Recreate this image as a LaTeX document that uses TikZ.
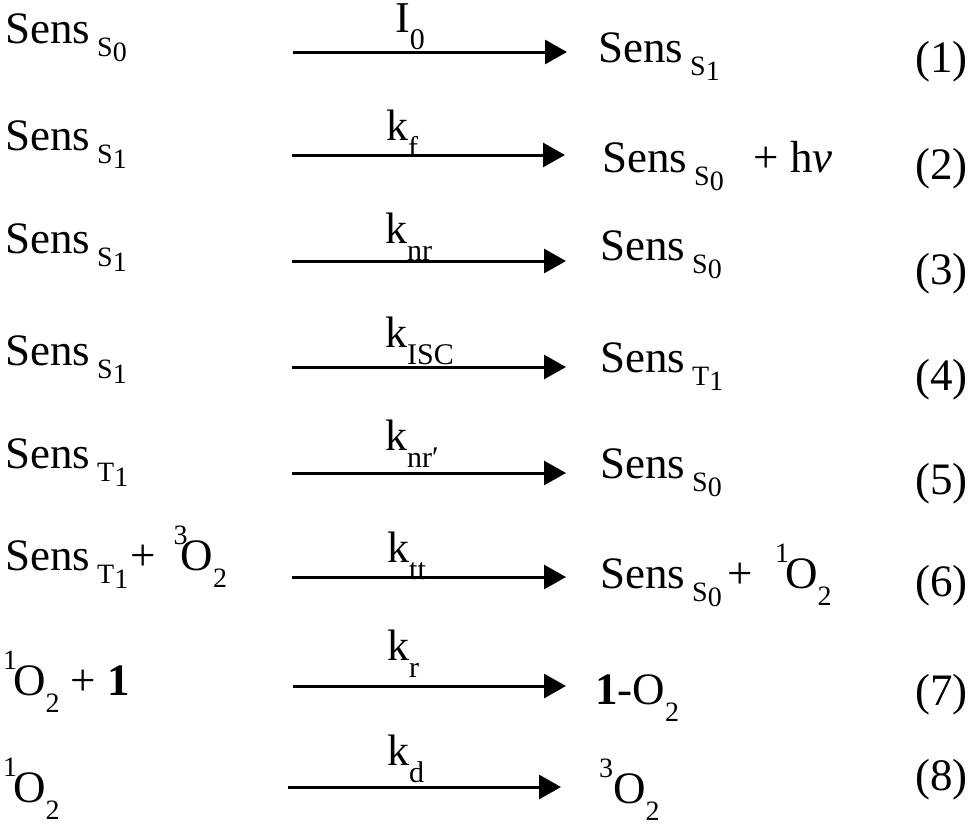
\documentclass[tikz,border=0pt]{standalone}
\usepackage{fontspec}
\setmainfont{Liberation Serif}
\usetikzlibrary{arrows.meta}

\newcommand{\subsize}{\fontsize{28}{28}\selectfont}
\newcommand{\sens}[2]{Sens\hspace{7pt}\raisebox{-13pt}{\subsize #1\raisebox{-5pt}{#2}}}
\newcommand{\oxy}[2][0pt]{\raisebox{26pt}{\subsize #2}\hspace{#1}O\raisebox{-17pt}{\subsize 2}}
\newcommand{\lsub}[1]{\raisebox{-17pt}{\fontsize{30}{30}\selectfont #1}}

\begin{document}
\begin{tikzpicture}[x=1pt, y=-1pt,
    species/.style={anchor=base west, inner sep=0pt, font=\fontsize{45}{50}\selectfont},
    rate/.style={anchor=base west, inner sep=0pt, font=\fontsize{44}{48}\selectfont},
    eqno/.style={anchor=base west, inner sep=0pt, font=\fontsize{45}{50}\selectfont},
    rxn/.style={line width=3pt, -{Triangle[length=22pt,width=24pt]}}
  ]
  \useasboundingbox (0,0) rectangle (973,828);

  % reactants
  \node[species] (lhs1) at (5,43) {\sens{S}{0}};
  \node[species] (lhs2) at (5,150) {\sens{S}{1}};
  \node[species] (lhs3) at (5,253) {\sens{S}{1}};
  \node[species] (lhs4) at (5,365) {\sens{S}{1}};
  \node[species] (lhs5) at (5,468) {\sens{T}{1}};
  \node[species] (lhs6) at (5,570) {\sens{T}{1}\hspace{2pt}+\hspace{18pt}\oxy[-7pt]{3}};
  \node[species] (lhs7) at (3,695) {\oxy[-4pt]{1} + \textbf{1}};
  \node[species] (lhs8) at (3,802) {\oxy[-4pt]{1}};

  % products
  \node[species] (rhs1) at (598,62) {\sens{S}{1}};
  \node[species] (rhs2) at (602,172) {\sens{S}{0}\hspace{30pt}+ h\textit{ν}};
  \node[species] (rhs3) at (600,260) {\sens{S}{0}};
  \node[species] (rhs4) at (600,372) {\sens{T}{1}};
  \node[species] (rhs5) at (600,478) {\sens{S}{0}};
  \node[species] (rhs6) at (600,588) {\sens{S}{0}\hspace{6pt}+\hspace{22pt}\oxy[-4pt]{1}};
  \node[species] (rhs7) at (595,704) {\textbf{1}-O\raisebox{-17pt}{\subsize 2}};
  \node[species] (rhs8) at (599,803) {\oxy{3}};

  % arrows
  \coordinate (from1) at (293,52);  \coordinate (to1) at (567,52);
  \coordinate (from2) at (292,155); \coordinate (to2) at (565,155);
  \coordinate (from3) at (292,261); \coordinate (to3) at (566,261);
  \coordinate (from4) at (292,367); \coordinate (to4) at (566,367);
  \coordinate (from5) at (292,473); \coordinate (to5) at (566,473);
  \coordinate (from6) at (292,577); \coordinate (to6) at (566,577);
  \coordinate (from7) at (293,686); \coordinate (to7) at (566,686);
  \coordinate (from8) at (288,787); \coordinate (to8) at (561,787);
  \draw[rxn] (from1) -- (to1);
  \draw[rxn] (from2) -- (to2);
  \draw[rxn] (from3) -- (to3);
  \draw[rxn] (from4) -- (to4);
  \draw[rxn] (from5) -- (to5);
  \draw[rxn] (from6) -- (to6);
  \draw[rxn] (from7) -- (to7);
  \draw[rxn] (from8) -- (to8);

  % rate constants
  \node[rate] (rate1) at (395,32) {I\lsub{0}};
  \node[rate] (rate2) at (386,140) {k\lsub{f}};
  \node[rate] (rate3) at (385,243) {k\lsub{nr}};
  \node[rate] (rate4) at (385,347) {k\lsub{ISC}};
  \node[rate] (rate5) at (385,450) {k\lsub{nr′}};
  \node[rate] (rate6) at (387,562) {k\lsub{tt}};
  \node[rate] (rate7) at (387,660) {k\lsub{r}};
  \node[rate] (rate8) at (387,765) {k\lsub{d}};

  % equation numbers
  \node[eqno] (num1) at (915,72) {(1)};
  \node[eqno] (num2) at (915,179) {(2)};
  \node[eqno] (num3) at (915,284) {(3)};
  \node[eqno] (num4) at (915,390) {(4)};
  \node[eqno] (num5) at (915,494) {(5)};
  \node[eqno] (num6) at (915,596) {(6)};
  \node[eqno] (num7) at (915,705) {(7)};
  \node[eqno] (num8) at (915,790) {(8)};
\end{tikzpicture}
\end{document}
